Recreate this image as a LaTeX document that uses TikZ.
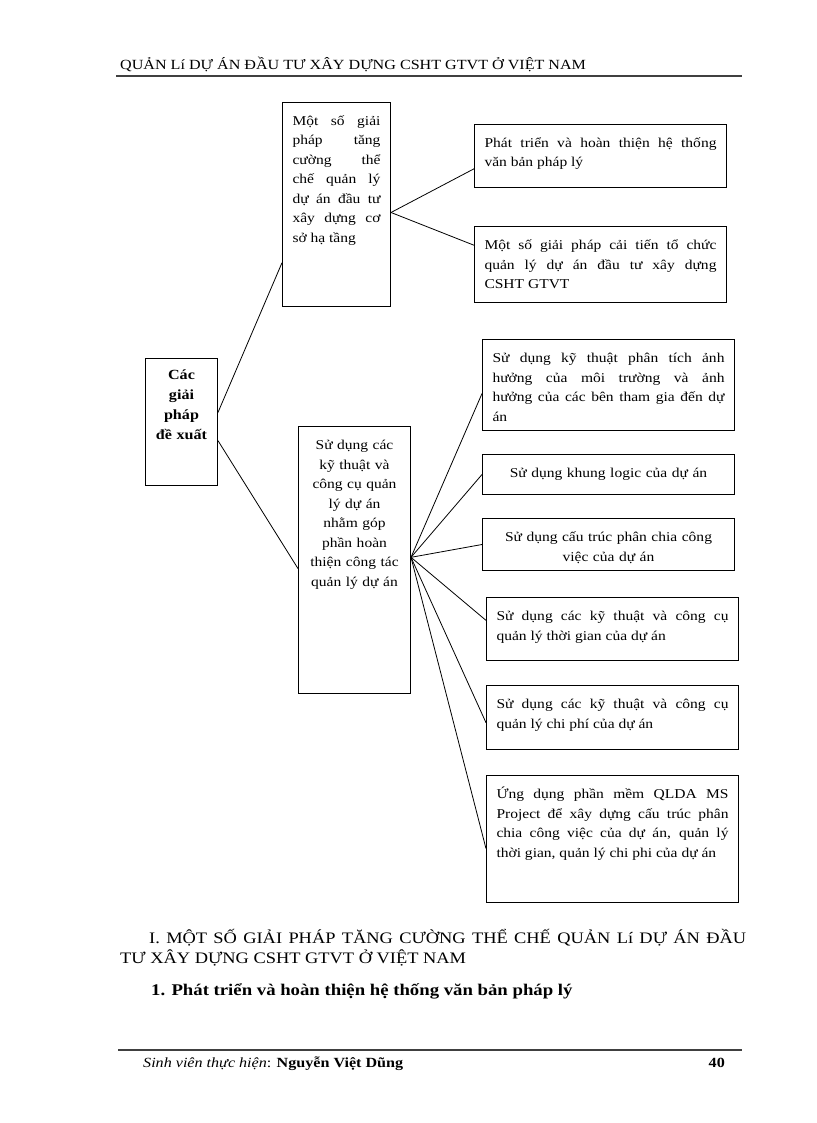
\documentclass[tikz,border=0pt]{standalone}
\usepackage{fontspec}
\setmainfont{Liberation Serif}[FakeStretch=1.15]
\usetikzlibrary{calc}
\tolerance=10000
\hbadness=10000

\begin{document}
\begin{tikzpicture}[x=1pt,y=-1pt]

      \tikzset{box/.style={draw, line width=1pt, anchor=north west, inner xsep=10pt, inner ysep=11pt, text height=12pt, align=justify, text width=#1, font=\fontsize{13.5}{19.5}\selectfont},
               link/.style={line width=.8pt},
               rule/.style={line width=1.3pt, black!75},
               plain/.style={inner sep=0pt, anchor=base west}}
      \useasboundingbox (0,0) rectangle (816,1123);
%% Header and footer
      	\node[plain, font=\fontsize{14}{16}\selectfont] (head) at (120,70) {QUẢN Lí DỰ ÁN ĐẦU TƯ XÂY DỰNG CSHT GTVT Ở VIỆT NAM};
      	\coordinate (hl) at (116,76);
      	\coordinate (hr) at (742,76);
      	\draw[rule] (hl) -- (hr);
      	\coordinate (fl) at (118,1050);
      	\coordinate (fr) at (742,1050);
      	\draw[rule] (fl) -- (fr);
      	\node[plain, font=\fontsize{14}{16}\selectfont] (foot) at (143,1067) {\textit{Sinh viên thực hiện}: \textbf{Nguyễn Việt Dũng}};
      	\node[plain, anchor=base east, font=\bfseries\fontsize{14}{16}\selectfont] (page) at (725,1067) {40};
%% Boxes
      	\node[box=52pt, inner ysep=9pt, text depth=97pt, align=center, font=\bfseries\fontsize{14}{20}\selectfont] (root) at (145,358) {Các\\ giải\\ pháp\\ đề xuất};
      	\node[box=88pt, text depth=170pt] (a) at (282,102) {Một số giải \linebreak pháp tăng \linebreak cường thể \linebreak chế quản lý \linebreak dự án đầu tư \linebreak xây dựng cơ \linebreak sở hạ tầng};
      	\node[box=232pt, text depth=29pt] (b1) at (474,124) {Phát triển và hoàn thiện hệ thống \linebreak văn bản pháp lý};
      	\node[box=232pt, text depth=42pt] (b2) at (474,226) {Một số giải pháp cải tiến tổ chức \linebreak quản lý dự án đầu tư xây dựng \linebreak CSHT GTVT};
      	\node[box=92pt, text depth=233pt, align=center] (c) at (298,426) {Sử dụng các\\ kỹ thuật và\\ công cụ quản\\ lý dự án\\ nhằm góp\\ phần hoàn\\ thiện công tác\\ quản lý dự án};
      	\node[box=232pt, text depth=57pt] (c1) at (482,339) {Sử dụng kỹ thuật phân tích ảnh \linebreak hưởng của môi trường và ảnh \linebreak hưởng của các bên tham gia đến dự \linebreak án};
      	\node[box=232pt, text depth=6pt, align=center] (c2) at (482,454) {Sử dụng khung logic của dự án};
      	\node[box=232pt, text depth=18pt, align=center] (c3) at (482,518) {Sử dụng cấu trúc phân chia công\\ việc của dự án};
      	\node[box=232pt, text depth=29pt] (c4) at (486,597) {Sử dụng các kỹ thuật và công cụ \linebreak quản lý thời gian của dự án};
      	\node[box=232pt, text depth=30pt] (c5) at (486,685) {Sử dụng các kỹ thuật và công cụ \linebreak quản lý chi phí của dự án};
      	\node[box=232pt, text depth=93pt] (c6) at (486,775) {Ứng dụng phần mềm QLDA MS \linebreak Project để xây dựng cấu trúc phân \linebreak chia công việc của dự án, quản lý \linebreak thời gian, quản lý chi phi của dự án};
%% Lines
      	\coordinate (afan) at ($(a.north east)!.539!(a.south east)$);
      	\coordinate (cfan) at ($(c.north east)!.49!(c.south east)$);
		\draw[link] ($(root.north east)!.425!(root.south east)$) -- ($(a.north west)!.784!(a.south west)$);
		\draw[link] ($(root.north east)!.646!(root.south east)$) -- ($(c.north west)!.532!(c.south west)$);
		\draw[link] (afan) -- ($(b1.north west)!.70!(b1.south west)$);
		\draw[link] (afan) -- ($(b2.north west)!.25!(b2.south west)$);
		\draw[link] (cfan) -- ($(c1.north west)!.593!(c1.south west)$);
		\draw[link] (cfan) -- ($(c2.north west)!.5!(c2.south west)$);
		\draw[link] (cfan) -- ($(c3.north west)!.5!(c3.south west)$);
		\draw[link] (cfan) -- ($(c4.north west)!.365!(c4.south west)$);
		\draw[link] (cfan) -- ($(c5.north west)!.58!(c5.south west)$);
		\draw[link] (cfan) -- ($(c6.north west)!.575!(c6.south west)$);
%% Section headings
      	\node[plain, text width=626pt, align=justify, font=\fontsize{16}{20}\selectfont] (sec) at (120,943) {\hspace*{29pt}I. MỘT SỐ GIẢI PHÁP TĂNG CƯỜNG THỂ CHẾ QUẢN Lí DỰ ÁN ĐẦU \linebreak TƯ XÂY DỰNG CSHT GTVT Ở VIỆT NAM};
      	\node[plain, font=\bfseries\fontsize{16.3}{20}\selectfont] (sub) at (151,995) {1. Phát triển và hoàn thiện hệ thống văn bản pháp lý};

	\end{tikzpicture}
\end{document}
